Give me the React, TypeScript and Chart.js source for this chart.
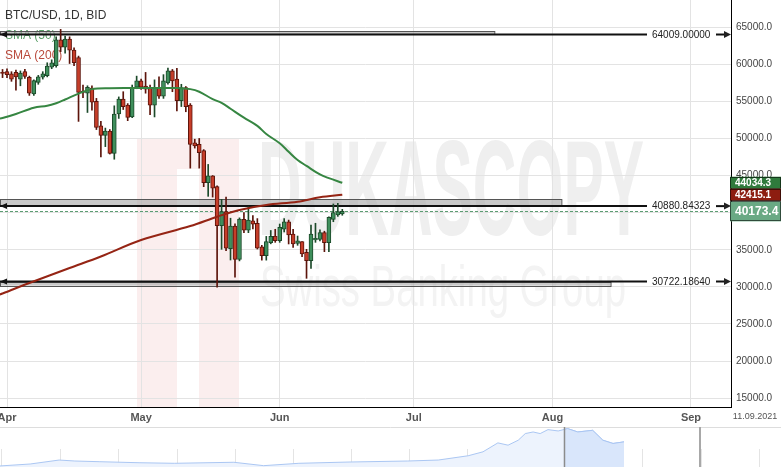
import React, { useEffect, useRef } from "react";
import { Chart, registerables } from "chart.js";

Chart.register(...registerables);

const FONT = "'Liberation Sans', Arial, sans-serif";

// ---- candle data (daily) ----
const dates = [
  "2021-03-31",
  "2021-04-01", "2021-04-02", "2021-04-03", "2021-04-04", "2021-04-05", "2021-04-06", "2021-04-07", "2021-04-08", "2021-04-09", "2021-04-10",
  "2021-04-11", "2021-04-12", "2021-04-13", "2021-04-14", "2021-04-15", "2021-04-16", "2021-04-17", "2021-04-18", "2021-04-19", "2021-04-20",
  "2021-04-21", "2021-04-22", "2021-04-23", "2021-04-24", "2021-04-25", "2021-04-26", "2021-04-27", "2021-04-28", "2021-04-29", "2021-04-30",
  "2021-05-01", "2021-05-02", "2021-05-03", "2021-05-04", "2021-05-05", "2021-05-06", "2021-05-07", "2021-05-08", "2021-05-09", "2021-05-10",
  "2021-05-11", "2021-05-12", "2021-05-13", "2021-05-14", "2021-05-15", "2021-05-16", "2021-05-17", "2021-05-18", "2021-05-19", "2021-05-20",
  "2021-05-21", "2021-05-22", "2021-05-23", "2021-05-24", "2021-05-25", "2021-05-26", "2021-05-27", "2021-05-28", "2021-05-29", "2021-05-30",
  "2021-05-31",
  "2021-06-01", "2021-06-02", "2021-06-03", "2021-06-04", "2021-06-05", "2021-06-06", "2021-06-07", "2021-06-08", "2021-06-09", "2021-06-10",
  "2021-06-11", "2021-06-12", "2021-06-13", "2021-06-14", "2021-06-15",
];

const opens = [
  58900,
  59000, 58700, 58900, 58000, 59000, 58250, 56000, 57550, 58250, 58450,
  59600, 59800, 63300, 62300, 63400, 61900, 60900, 56400, 56100, 56800,
  55000, 51700, 50400, 51000, 48000, 53300, 55300, 54500, 52900, 56900,
  57750, 57070, 56900, 54500, 56900, 55700, 57500, 59100, 58000, 55100,
  56850, 54500, 49400, 49200, 48350, 44050, 44950, 43500, 38240, 40130,
  35150, 38200, 33700, 39100, 37650, 38900, 38550, 35400, 34200, 35950,
  36850,
  36220, 37760, 38780, 37120, 35870, 36090, 34660, 33530, 36310, 36410,
  37300, 35950, 39100, 39680, 39820,
];

const highs = [
  59300,
  59400, 59000, 59200, 59100, 59300, 58400, 57900, 58500, 59000, 60200,
  60600, 63700, 64700, 63800, 63700, 62200, 61100, 57200, 57100, 57100,
  55400, 52300, 51400, 51200, 54400, 55600, 56300, 54700, 57200, 58400,
  58000, 58900, 57200, 57900, 58300, 58600, 59500, 59300, 59450, 57300,
  57000, 54700, 49900, 50000, 48500, 46500, 45000, 43600, 41800, 42110,
  39250, 38500, 39300, 40000, 40800, 39600, 39200, 35600, 36800, 37600,
  37760,
  38470, 39200, 39000, 37760, 36850, 36100, 35060, 38340, 38570, 37700,
  37500, 39450, 41170, 41260, 40450,
];

const lows = [
  58200,
  58200, 57700, 56500, 57100, 58100, 55800, 55800, 57300, 58000, 58300,
  59400, 59600, 61700, 61500, 60100, 59800, 52300, 55500, 53500, 53800,
  51200, 47500, 48900, 47900, 47200, 52700, 53900, 52400, 52800, 56700,
  56600, 56100, 53200, 52900, 55400, 55400, 57300, 56300, 53700, 54300,
  53600, 46000, 48700, 46000, 43500, 42200, 42100, 29950, 35060, 34870,
  33620, 31300, 33500, 37300, 37300, 37800, 35100, 33600, 33600, 35800,
  36000,
  36000, 37400, 35780, 35330, 35600, 34060, 31150, 32500, 36000, 36200,
  34740, 34740, 38780, 39500, 39650,
];

const closes = [
  58750,
  58600, 58000, 58300, 58800, 58350, 56100, 57800, 58300, 58700, 59750,
  60200, 63300, 62300, 63400, 61900, 60200, 56200, 56200, 56900, 54900,
  51500, 50400, 51000, 48000, 53300, 55300, 54300, 52850, 56900, 57750,
  56900, 56650, 54500, 56900, 55700, 57750, 59100, 57750, 55100, 56850,
  54300, 49200, 49000, 48100, 44050, 44950, 43300, 38240, 40130, 35200,
  38200, 33700, 39150, 37650, 39000, 38450, 35200, 34200, 36100, 36800,
  36220,
  38030, 38780, 36990, 35780, 36220, 34430, 33530, 37120, 36540, 37300,
  35950, 39370, 40000, 40130, 40173.4,
];

// ---- moving averages ----
const sma50Dates = [
  "2021-03-30", "2021-03-31", "2021-04-03", "2021-04-07", "2021-04-10", "2021-04-12", "2021-04-14", "2021-04-17",
  "2021-04-20", "2021-04-24", "2021-04-29", "2021-05-04", "2021-05-09", "2021-05-12", "2021-05-14", "2021-05-17",
  "2021-05-19", "2021-05-21", "2021-05-24", "2021-05-27", "2021-05-29", "2021-06-01", "2021-06-03", "2021-06-05",
  "2021-06-07", "2021-06-10", "2021-06-12", "2021-06-15",
];
const sma50Values = [
  52650, 52750, 53300, 54150, 54400, 54750, 55250, 56050,
  56650, 56780, 56800, 56800, 56800, 56650, 56300, 55300,
  54800, 54000, 52800, 51700, 50600, 49350, 48200, 47100,
  46300, 45150, 44650, 44034.3,
];

const sma200Dates = [
  "2021-03-30", "2021-03-31", "2021-04-06", "2021-04-15", "2021-04-22", "2021-05-01", "2021-05-12",
  "2021-05-18", "2021-05-23", "2021-05-29", "2021-06-05", "2021-06-10", "2021-06-15",
];
const sma200Values = [
  28900, 29100, 30520, 32540, 34090, 36315, 38200,
  39455, 40360, 41030, 41480, 42070, 42415.1,
];

// ---- horizontal level tools ----
const levelValues = [64009.0, 40880.84323, 30722.1864];
const levelLabels = ["64009.00000", "40880.84323", "30722.18640"];
const bandEdges = [64480, 41800, 30160];
const bandEndDates = ["2021-07-19", "2021-08-03", "2021-08-14"];

const lastPrice = 40173.4;
const sma50Last = 44034.3;
const sma200Last = 42415.1;

// ---- axes ----
const monthTicks = ["2021-04-01", "2021-05-01", "2021-06-01", "2021-07-01", "2021-08-01", "2021-09-01"];
const monthLabels = ["Apr", "May", "Jun", "Jul", "Aug", "Sep"];
const yTicks = [15000, 20000, 25000, 30000, 35000, 40000, 45000, 50000, 55000, 60000, 65000];
const xMinDay = -1.566;
const xMaxDay = 161.95;
const yMin = 13809;
const yMax = 68660;
const endDateLabel = "11.09.2021";

// ---- navigator ----
const navDates = [
  "2019-04-10", "2019-05-19", "2019-06-25", "2019-07-15", "2019-08-16", "2019-10-05", "2019-11-19",
  "2020-02-03", "2020-03-12", "2020-04-26", "2020-06-29", "2020-09-12", "2020-10-21", "2020-11-28",
  "2020-12-17", "2021-01-05", "2021-01-18", "2021-01-31", "2021-02-09", "2021-02-19", "2021-02-28",
  "2021-03-10", "2021-03-23", "2021-04-04", "2021-04-17", "2021-05-06", "2021-05-19", "2021-06-01", "2021-06-15",
];
const navValues = [
  3400, 6500, 12700, 11200, 10100, 8500, 7600,
  9200, 3900, 7600, 9600, 11200, 12700, 19400,
  25600, 39600, 36000, 43800, 54200, 56700, 54200,
  60400, 58300, 62000, 56700, 59300, 43800, 38700, 41200,
];
const navGridDates = [
  "2019-04-12", "2019-06-26", "2019-09-08", "2019-11-22", "2020-02-04", "2020-04-18", "2020-07-01",
  "2020-09-14", "2020-11-27", "2021-02-10", "2021-04-25", "2021-07-08", "2021-09-21", "2021-12-04",
];
const navWindow = ["2021-03-30", "2021-09-20"];
const navXMin = -721.5;
const navXMax = 275.4;
const navYMin = 1800;
const navYMax = 64500;

const BASE = Date.UTC(2021, 3, 1);
const dayOf = (s: string) => (Date.parse(s + "T00:00:00Z") - BASE) / 86400000;

const RED = "#c63d29";
const RED_DARK = "#5c140b";
const GREEN = "#3f8f5c";
const GREEN_DARK = "#1c4a2a";

export default function App() {
  const mainRef = useRef<HTMLCanvasElement | null>(null);
  const navRef = useRef<HTMLCanvasElement | null>(null);

  useEffect(() => {
    document.body.style.margin = "0";
    document.body.style.overflow = "hidden";

    const xs = dates.map(dayOf);
    const up = closes.map((c, i) => c >= opens[i]);

    const decoPlugin = {
      id: "deco",
      beforeDraw(chart: any) {
        const { ctx, chartArea: a } = chart;
        ctx.save();
        ctx.fillStyle = "#ffffff";
        ctx.fillRect(0, 0, chart.width, chart.height);
        ctx.beginPath();
        ctx.rect(a.left, a.top, a.right - a.left, a.bottom - a.top);
        ctx.clip();
        // watermark logo
        ctx.fillStyle = "#fbeeee";
        ctx.fillRect(137, 138, 102, 269);
        ctx.fillStyle = "#ffffff";
        ctx.fillRect(177, 169, 22, 238);
        // watermark text
        ctx.fillStyle = "#efefef";
        ctx.textAlign = "left";
        ctx.textBaseline = "alphabetic";
        ctx.font = `bold 135px ${FONT}`;
        ctx.fillText("DUKASCOPY", 258, 235, 386);
        ctx.fillStyle = "#f3f3f3";
        ctx.font = `58px ${FONT}`;
        ctx.fillText("Swiss Banking Group", 260, 306, 366);
        ctx.restore();
      },
      beforeDatasetsDraw(chart: any) {
        const { ctx, chartArea: a } = chart;
        const x = chart.scales.x;
        const y = chart.scales.y;
        ctx.save();
        ctx.beginPath();
        ctx.rect(a.left, a.top, a.right - a.left, a.bottom - a.top);
        ctx.clip();
        ctx.textAlign = "left";
        ctx.textBaseline = "middle";
        ctx.font = `12px ${FONT}`;
        ctx.fillStyle = "#333333";
        ctx.fillText("BTC/USD, 1D, BID", 5, 15.5);
        ctx.fillStyle = "#5a9f68";
        ctx.fillText("SMA (50)", 5, 35.5);
        ctx.fillStyle = "#b9493b";
        ctx.fillText("SMA (200)", 5, 55.5);

        levelValues.forEach((lv, i) => {
          const yl = y.getPixelForValue(lv);
          const ye = y.getPixelForValue(bandEdges[i]);
          const xe = x.getPixelForValue(dayOf(bandEndDates[i]));
          const top = Math.min(yl, ye);
          const h = Math.abs(ye - yl);
          ctx.fillStyle = "rgba(165,165,165,0.6)";
          ctx.fillRect(a.left, top, xe - a.left, h);
          ctx.strokeStyle = "#555555";
          ctx.lineWidth = 1;
          ctx.strokeRect(a.left + 0.5, Math.round(top) + 0.5, xe - a.left, Math.round(h));
          // main line
          const textX = a.right - 79;
          ctx.strokeStyle = "#111111";
          ctx.lineWidth = 2;
          ctx.beginPath();
          ctx.moveTo(a.left, yl);
          ctx.lineTo(textX - 5, yl);
          ctx.stroke();
          // left arrow
          ctx.fillStyle = "#111111";
          ctx.beginPath();
          ctx.moveTo(a.left, yl);
          ctx.lineTo(a.left + 7, yl - 3);
          ctx.lineTo(a.left + 7, yl + 3);
          ctx.closePath();
          ctx.fill();
          // label
          ctx.font = `10px ${FONT}`;
          ctx.fillStyle = "#222222";
          ctx.textBaseline = "middle";
          ctx.fillText(levelLabels[i], textX, yl + 0.5);
          // right arrow
          ctx.beginPath();
          ctx.moveTo(a.right - 15, yl);
          ctx.lineTo(a.right - 5, yl);
          ctx.stroke();
          ctx.beginPath();
          ctx.moveTo(a.right, yl);
          ctx.lineTo(a.right - 7, yl - 3.5);
          ctx.lineTo(a.right - 7, yl + 3.5);
          ctx.closePath();
          ctx.fill();
        });

        // last price dashed line
        const yp = y.getPixelForValue(lastPrice);
        ctx.strokeStyle = "#5c9c72";
        ctx.lineWidth = 1;
        ctx.setLineDash([3, 2]);
        ctx.beginPath();
        ctx.moveTo(a.left, Math.round(yp) + 0.5);
        ctx.lineTo(a.right, Math.round(yp) + 0.5);
        ctx.stroke();
        ctx.setLineDash([]);
        ctx.restore();
      },
      afterDraw(chart: any) {
        const { ctx, chartArea: a } = chart;
        const y = chart.scales.y;
        ctx.save();
        const tag = (v: number, bg: string, h: number, font: string) => {
          const yc = y.getPixelForValue(v);
          ctx.fillStyle = bg;
          ctx.fillRect(a.right - 1, yc - h / 2, chart.width - a.right + 1, h);
          ctx.strokeStyle = "rgba(0,0,0,0.55)";
          ctx.lineWidth = 1;
          ctx.strokeRect(a.right - 0.5, Math.round(yc - h / 2) + 0.5, chart.width - a.right, Math.round(h) - 1);
          ctx.fillStyle = "#ffffff";
          ctx.font = font;
          ctx.textAlign = "left";
          ctx.textBaseline = "middle";
          ctx.fillText(v.toFixed(1), a.right + 4, yc + 0.5);
        };
        tag(sma50Last, "#2f7a3c", 12, `bold 10px ${FONT}`);
        tag(sma200Last, "#8d1d10", 12, `bold 10px ${FONT}`);
        tag(lastPrice, "#6aa984", 20, `bold 12px ${FONT}`);
        // date stamp
        ctx.fillStyle = "#555555";
        ctx.font = `9px ${FONT}`;
        ctx.textAlign = "center";
        ctx.textBaseline = "middle";
        ctx.fillText(endDateLabel, 755, a.bottom + 10);
        ctx.restore();
      },
    };

    const main = new Chart(mainRef.current as HTMLCanvasElement, {
      type: "bar",
      data: {
        datasets: [
          {
            type: "line",
            data: sma50Dates.map((d, i) => ({ x: dayOf(d), y: sma50Values[i] })),
            borderColor: "#368642",
            borderWidth: 2,
            pointRadius: 0,
            tension: 0.35,
            fill: false,
          } as any,
          {
            type: "line",
            data: sma200Dates.map((d, i) => ({ x: dayOf(d), y: sma200Values[i] })),
            borderColor: "#952414",
            borderWidth: 2,
            pointRadius: 0,
            tension: 0.35,
            fill: false,
          } as any,
          {
            type: "bar",
            data: xs.map((x, i) => ({ x, y: [opens[i], closes[i]] })),
            backgroundColor: up.map((u) => (u ? GREEN : RED)),
            borderColor: up.map((u) => (u ? GREEN_DARK : RED_DARK)),
            borderWidth: 1,
            borderSkipped: false,
            barThickness: 4,
            minBarLength: 1,
            grouped: false,
          } as any,
          {
            type: "bar",
            data: xs.map((x, i) => ({ x, y: [lows[i], highs[i]] })),
            backgroundColor: up.map((u) => (u ? GREEN_DARK : RED_DARK)),
            borderWidth: 0,
            barThickness: 1,
            grouped: false,
          } as any,
        ],
      },
      options: {
        responsive: false,
        animation: false,
        events: [],
        layout: { padding: 0 },
        plugins: { legend: { display: false }, tooltip: { enabled: false } },
        scales: {
          x: {
            type: "linear",
            min: xMinDay,
            max: xMaxDay,
            offset: false,
            bounds: "data",
            afterBuildTicks: (s: any) => {
              s.ticks = monthTicks.map((d) => ({ value: dayOf(d) }));
            },
            afterFit: (s: any) => {
              s.height = 20;
              s.paddingLeft = 0;
              s.paddingRight = 0;
            },
            ticks: {
              autoSkip: false,
              maxRotation: 0,
              padding: 4,
              color: "#555555",
              font: { family: FONT, size: 11, weight: "bold" },
              callback: (_v: any, i: number) => monthLabels[i],
            },
            grid: { color: "#e3e3e3", drawTicks: false, offset: false },
            border: { display: true, color: "#000000", width: 1 },
          },
          y: {
            type: "linear",
            position: "right",
            min: yMin,
            max: yMax,
            beginAtZero: false,
            afterBuildTicks: (s: any) => {
              s.ticks = yTicks.map((v) => ({ value: v }));
            },
            afterFit: (s: any) => {
              s.width = 50;
              s.paddingTop = 0;
              s.paddingBottom = 0;
            },
            ticks: {
              padding: 5,
              color: "#444444",
              font: { family: FONT, size: 10 },
              callback: (v: any) => Number(v).toFixed(1),
            },
            grid: { color: "#e3e3e3", drawTicks: false },
            border: { display: true, color: "#000000", width: 1 },
          },
        },
      } as any,
      plugins: [decoPlugin],
    });

    const navPlugin = {
      id: "navDeco",
      beforeDraw(chart: any) {
        const { ctx } = chart;
        ctx.save();
        ctx.fillStyle = "#ffffff";
        ctx.fillRect(0, 0, chart.width, chart.height);
        ctx.restore();
      },
      beforeDatasetsDraw(chart: any) {
        const { ctx, width, height } = chart;
        const sx = chart.scales.x;
        ctx.save();
        ctx.strokeStyle = "#e4e4e4";
        ctx.lineWidth = 1;
        navGridDates.forEach((d) => {
          const px = Math.round(sx.getPixelForValue(dayOf(d))) + 0.5;
          ctx.beginPath();
          ctx.moveTo(px, 22);
          ctx.lineTo(px, height);
          ctx.stroke();
        });
        ctx.strokeStyle = "#dddddd";
        ctx.beginPath();
        ctx.moveTo(0, 0.5);
        ctx.lineTo(width, 0.5);
        ctx.stroke();
        ctx.restore();
      },
      afterDatasetsDraw(chart: any) {
        const { ctx, height } = chart;
        const sx = chart.scales.x;
        const pts = chart.getDatasetMeta(0).data;
        const x0 = sx.getPixelForValue(dayOf(navWindow[0]));
        const x1 = sx.getPixelForValue(dayOf(navWindow[1]));
        ctx.save();
        ctx.beginPath();
        ctx.rect(x0, 0, x1 - x0, height);
        ctx.clip();
        ctx.beginPath();
        ctx.moveTo(pts[0].x, height);
        pts.forEach((p: any) => ctx.lineTo(p.x, p.y));
        ctx.lineTo(pts[pts.length - 1].x, height);
        ctx.closePath();
        ctx.fillStyle = "#d9e6fb";
        ctx.fill();
        ctx.beginPath();
        pts.forEach((p: any, i: number) => (i ? ctx.lineTo(p.x, p.y) : ctx.moveTo(p.x, p.y)));
        ctx.strokeStyle = "#a9c5f2";
        ctx.lineWidth = 1;
        ctx.stroke();
        ctx.restore();
        ctx.save();
        ctx.strokeStyle = "#8c8c8c";
        ctx.lineWidth = 1.5;
        ctx.beginPath();
        ctx.moveTo(Math.round(x0) + 0.5, 0);
        ctx.lineTo(Math.round(x0) + 0.5, height);
        ctx.stroke();
        ctx.strokeStyle = "#a8a8a8";
        ctx.lineWidth = 2;
        ctx.beginPath();
        ctx.moveTo(Math.round(x1), 0);
        ctx.lineTo(Math.round(x1), height);
        ctx.stroke();
        ctx.restore();
      },
    };

    const nav = new Chart(navRef.current as HTMLCanvasElement, {
      type: "line",
      data: {
        datasets: [
          {
            data: navDates.map((d, i) => ({ x: dayOf(d), y: navValues[i] })),
            borderColor: "#abc7f3",
            borderWidth: 1,
            backgroundColor: "#edf3fd",
            fill: "start",
            pointRadius: 0,
            tension: 0,
          },
        ],
      },
      options: {
        responsive: false,
        animation: false,
        events: [],
        layout: { padding: 0 },
        plugins: { legend: { display: false }, tooltip: { enabled: false } },
        scales: {
          x: { type: "linear", display: false, min: navXMin, max: navXMax },
          y: { type: "linear", display: false, min: navYMin, max: navYMax },
        },
      } as any,
      plugins: [navPlugin],
    });

    return () => {
      main.destroy();
      nav.destroy();
    };
  }, []);

  return (
    <div style={{ position: "relative", width: 781, height: 467, background: "#fff", overflow: "hidden" }}>
      <canvas ref={mainRef} width={781} height={427} style={{ display: "block", position: "absolute", left: 0, top: 0 }} />
      <canvas ref={navRef} width={781} height={40} style={{ display: "block", position: "absolute", left: 0, top: 427 }} />
    </div>
  );
}
